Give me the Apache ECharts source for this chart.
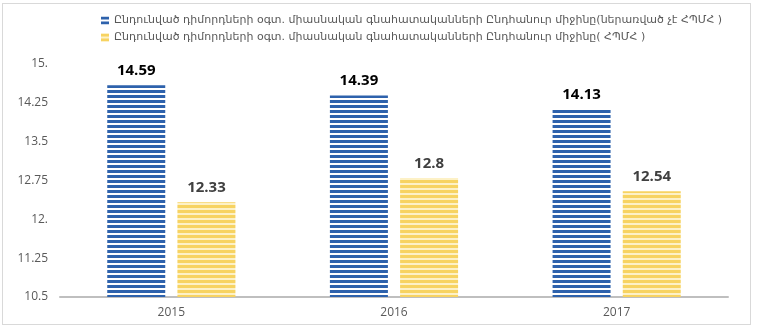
<!DOCTYPE html>
<html>
<head>
<meta charset="utf-8">
<script src="https://cdn.jsdelivr.net/npm/echarts@6/dist/echarts.min.js"></script>
<style>
  html, body { margin: 0; padding: 0; background: #fff; }
  #frame { position: absolute; left: 2px; top: 3px; width: 749px; height: 322px; border: 1px solid #d9d9d9; box-sizing: border-box; }
  #chart { width: 760px; height: 333px; }
</style>
</head>
<body>
<div id="frame"></div>
<div id="chart"></div>
<script>
const years = ['2015', '2016', '2017'];
const seriesNames = [
  'Ընդունված դիմորդների օգտ. միասնական գնահատականների Ընդհանուր միջինը(ներառված չէ ՀՊՄՀ )',
  'Ընդունված դիմորդների օգտ. միասնական գնահատականների Ընդհանուր միջինը( ՀՊՄՀ )'
];
const excludingValues = [14.59, 14.39, 14.13];
const includingValues = [12.33, 12.8, 12.54];
const yTickLabels = ['10.5', '11.25', '12.', '12.75', '13.5', '14.25', '15.'];

// Horizontal stripe fill for a bar
function stripes(line, gap, lineH, gapH) {
  const c = document.createElement('canvas');
  c.width = 4;
  c.height = lineH + gapH;
  const ctx = c.getContext('2d');
  ctx.fillStyle = gap;
  ctx.fillRect(0, 0, c.width, c.height);
  ctx.fillStyle = line;
  ctx.fillRect(0, 0, c.width, lineH);
  return { image: c, repeat: 'repeat' };
}

const blueFill = stripes('#2e62ac', '#ffffff', 3, 2);
const yellowFill = stripes('#f7d361', '#fdf1c6', 3, 2);

const chart = echarts.init(document.getElementById('chart'), null, { renderer: 'canvas' });
chart.setOption({
  animation: false,
  backgroundColor: 'transparent',
  legend: {
    orient: 'vertical',
    left: 96,
    top: 10,
    itemWidth: 8,
    itemHeight: 8,
    itemGap: 6,
    icon: 'rect',
    textStyle: { fontFamily: 'DejaVu Sans', fontSize: 11, color: '#595959' },
    data: seriesNames
  },
  grid: { left: 60, right: 32, top: 64, bottom: 36 },
  xAxis: {
    type: 'category',
    data: years,
    axisTick: { show: false },
    axisLine: { lineStyle: { color: '#bfbfbf', width: 2 } },
    axisLabel: { color: '#595959', fontFamily: 'Open Sans', fontSize: 12, margin: 10 }
  },
  yAxis: {
    type: 'value',
    min: 10.5,
    max: 15,
    interval: 0.75,
    splitLine: { show: false },
    axisLine: { show: false },
    axisTick: { show: false },
    axisLabel: {
      color: '#595959', fontFamily: 'Open Sans', fontSize: 12, margin: 12,
      formatter: function (v) {
        const i = Math.round((v - 10.5) / 0.75);
        return yTickLabels[i] !== undefined ? yTickLabels[i] : '';
      }
    }
  },
  series: [
    {
      name: seriesNames[0],
      type: 'bar',
      data: excludingValues,
      barWidth: 58,
      barGap: '21%',
      itemStyle: { color: blueFill },
      label: {
        show: true, position: 'top', distance: 7,
        fontFamily: 'Open Sans', fontWeight: 'bold', fontSize: 15, color: '#000000'
      }
    },
    {
      name: seriesNames[1],
      type: 'bar',
      data: includingValues,
      barWidth: 58,
      itemStyle: { color: yellowFill },
      label: {
        show: true, position: 'top', distance: 7,
        fontFamily: 'Open Sans', fontWeight: 'bold', fontSize: 15, color: '#404040'
      }
    }
  ]
});
</script>
</body>
</html>
